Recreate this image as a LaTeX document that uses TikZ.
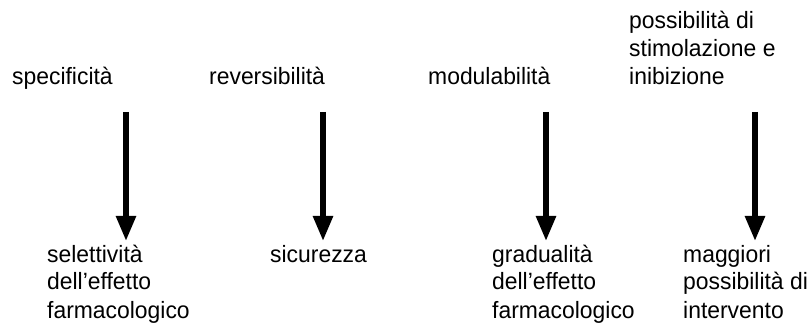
\documentclass[tikz,border=0pt]{standalone}
\usepackage{fontspec}
\setmainfont{Liberation Sans}[FakeStretch=0.97]
\usetikzlibrary{arrows.meta}
\tikzset{
  lbl/.style={anchor=base west, align=left, inner sep=0pt, font=\fontsize{23.6}{28}\selectfont},
  bigarrow/.style={line width=5.5pt, -{Triangle[length=25pt,width=19pt]}}
}
\begin{document}
\begin{tikzpicture}[x=1pt,y=-1pt]
\useasboundingbox (0,0) rectangle (810,328);
\node[lbl] (t1) at (12,85) {specificità};
\node[lbl] (t2) at (209,85) {reversibilità};
\node[lbl] (t3) at (428,85) {modulabilità};
\node[lbl] (t4) at (629,85) {possibilità di\\stimolazione e\\inibizione};
\node[lbl] (b1) at (47,318) {selettività\\dell’effetto\\farmacologico};
\node[lbl] (b2) at (270,263) {sicurezza};
\node[lbl] (b3) at (492,318) {gradualità\\dell’effetto\\farmacologico};
\node[lbl] (b4) at (683,318) {maggiori\\possibilità di\\intervento};
\coordinate (s1) at (126,112); \coordinate (e1) at (126,241);
\coordinate (s2) at (323,112); \coordinate (e2) at (323,241);
\coordinate (s3) at (546,112); \coordinate (e3) at (546,241);
\coordinate (s4) at (755,112); \coordinate (e4) at (755,241);
\draw[bigarrow] (s1) -- (e1);
\draw[bigarrow] (s2) -- (e2);
\draw[bigarrow] (s3) -- (e3);
\draw[bigarrow] (s4) -- (e4);
\end{tikzpicture}
\end{document}
